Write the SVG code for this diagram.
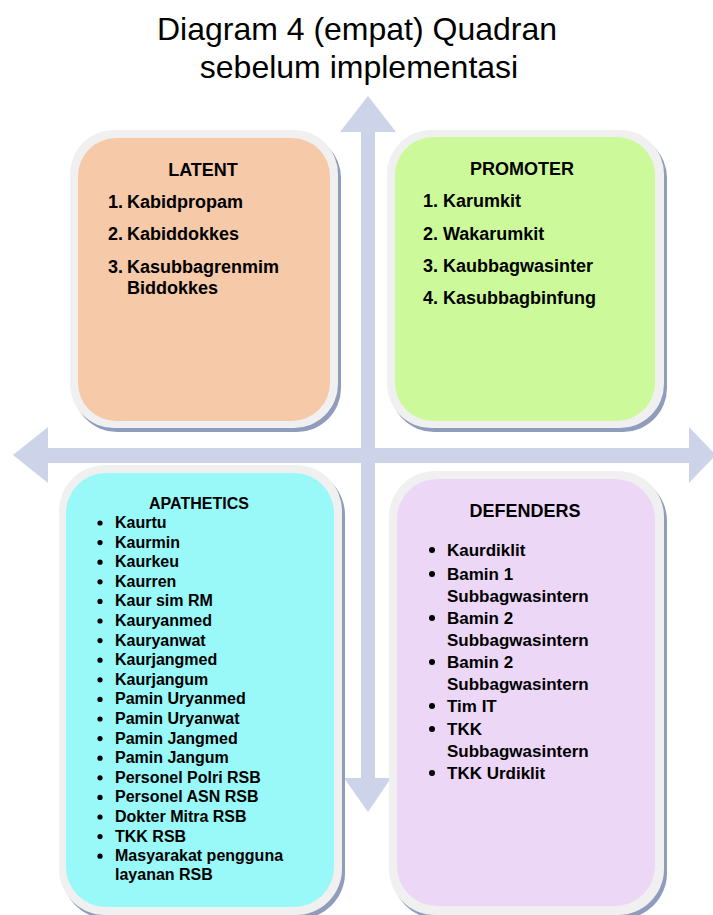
<svg xmlns="http://www.w3.org/2000/svg" width="713" height="915" viewBox="0 0 713 915">
<style>
text{font-family:"Liberation Sans",Arial,sans-serif;fill:#000}
.title{font-size:32px;text-anchor:middle}
.hd{font-size:18px;font-weight:bold;text-anchor:middle}
.it{font-size:18px;font-weight:bold}
.ap{font-size:16px;font-weight:bold}
.df{font-size:17px;font-weight:bold}
.sh{fill:#8f9cbc}
.rim{fill:#f0f0f0}
.arrow{fill:#cdd4ea}
</style>
<rect width="713" height="915" fill="#fff"/>
<text class="title" x="357" y="40">Diagram 4 (empat) Quadran</text>
<text class="title" x="359" y="78">sebelum implementasi</text>
<g id="connectors">
<polygon class="arrow" points="368,96 396,132 375,132 375,778 391,778 368,812 344,778 361,778 361,132 340,132"/>
<polygon class="arrow" points="13,455 48,427 48,448 689,448 689,427 713,452 713,458 689,483 689,463 48,463 48,483"/>
</g>
<g id="latent">
<rect class="sh" x="73" y="134" width="268" height="298" rx="44"/>
<rect class="rim" x="70" y="130" width="268" height="298" rx="44"/>
<rect x="78" y="138" width="252" height="283" rx="38" fill="#f6c9a9"/>
<text class="hd" x="203" y="176">LATENT</text>
<text class="it" x="108" y="208">1.</text><text class="it" x="127" y="208">Kabidpropam</text>
<text class="it" x="108" y="240">2.</text><text class="it" x="127" y="240">Kabiddokkes</text>
<text class="it" x="108" y="273">3.</text><text class="it" x="127" y="273">Kasubbagrenmim</text>
<text class="it" x="127" y="294">Biddokkes</text>
</g>
<g id="promoter">
<rect class="sh" x="390" y="134" width="277" height="298" rx="44"/>
<rect class="rim" x="387" y="130" width="277" height="298" rx="44"/>
<rect x="395" y="137" width="260" height="284" rx="38" fill="#ccfa9a"/>
<text class="hd" x="522" y="175">PROMOTER</text>
<text class="it" x="423" y="207">1.</text><text class="it" x="443" y="207">Karumkit</text>
<text class="it" x="423" y="240">2.</text><text class="it" x="443" y="240">Wakarumkit</text>
<text class="it" x="423" y="272">3.</text><text class="it" x="443" y="272">Kaubbagwasinter</text>
<text class="it" x="423" y="304">4.</text><text class="it" x="443" y="304">Kasubbagbinfung</text>
</g>
<g id="apathetics">
<rect class="sh" x="62" y="469" width="283" height="450" rx="46"/>
<rect class="rim" x="59" y="465" width="283" height="450" rx="46"/>
<rect x="66" y="473" width="268" height="434" rx="40" fill="#99f8f8"/>
<text class="ap" x="199" y="509" text-anchor="middle">APATHETICS</text>
<g fill="#000">
<circle cx="100" cy="523" r="2.6"/><circle cx="100" cy="542.6" r="2.6"/><circle cx="100" cy="562.2" r="2.6"/><circle cx="100" cy="581.8" r="2.6"/><circle cx="100" cy="601.4" r="2.6"/><circle cx="100" cy="621" r="2.6"/><circle cx="100" cy="640.6" r="2.6"/><circle cx="100" cy="660.2" r="2.6"/><circle cx="100" cy="679.8" r="2.6"/><circle cx="100" cy="699.4" r="2.6"/><circle cx="100" cy="719" r="2.6"/><circle cx="100" cy="738.6" r="2.6"/><circle cx="100" cy="758.2" r="2.6"/><circle cx="100" cy="777.8" r="2.6"/><circle cx="100" cy="797.4" r="2.6"/><circle cx="100" cy="817" r="2.6"/><circle cx="100" cy="836.6" r="2.6"/><circle cx="100" cy="856.2" r="2.6"/>
</g>
<text class="ap" x="115" y="528">Kaurtu</text>
<text class="ap" x="115" y="547.6">Kaurmin</text>
<text class="ap" x="115" y="567.2">Kaurkeu</text>
<text class="ap" x="115" y="586.8">Kaurren</text>
<text class="ap" x="115" y="606.4">Kaur sim RM</text>
<text class="ap" x="115" y="626">Kauryanmed</text>
<text class="ap" x="115" y="645.6">Kauryanwat</text>
<text class="ap" x="115" y="665.2">Kaurjangmed</text>
<text class="ap" x="115" y="684.8">Kaurjangum</text>
<text class="ap" x="115" y="704.4">Pamin Uryanmed</text>
<text class="ap" x="115" y="724">Pamin Uryanwat</text>
<text class="ap" x="115" y="743.6">Pamin Jangmed</text>
<text class="ap" x="115" y="763.2">Pamin Jangum</text>
<text class="ap" x="115" y="782.8">Personel Polri RSB</text>
<text class="ap" x="115" y="802.4">Personel ASN RSB</text>
<text class="ap" x="115" y="822">Dokter Mitra RSB</text>
<text class="ap" x="115" y="841.6">TKK RSB</text>
<text class="ap" x="115" y="861.2">Masyarakat pengguna</text>
<text class="ap" x="115" y="880.4">layanan RSB</text>
</g>
<g id="defenders">
<rect class="sh" x="392" y="475" width="275" height="444" rx="46"/>
<rect class="rim" x="389" y="471" width="275" height="444" rx="46"/>
<rect x="397" y="479" width="258" height="427" rx="40" fill="#ecd7f7"/>
<text class="hd" x="525" y="517">DEFENDERS</text>
<g fill="#000">
<circle cx="432" cy="550" r="3"/><circle cx="432" cy="574" r="3"/><circle cx="432" cy="618" r="3"/><circle cx="432" cy="662" r="3"/><circle cx="432" cy="706" r="3"/><circle cx="432" cy="729" r="3"/><circle cx="432" cy="773" r="3"/>
</g>
<text class="df" x="447" y="556">Kaurdiklit</text>
<text class="df" x="447" y="580">Bamin 1</text>
<text class="df" x="447" y="602">Subbagwasintern</text>
<text class="df" x="447" y="624">Bamin 2</text>
<text class="df" x="447" y="646">Subbagwasintern</text>
<text class="df" x="447" y="668">Bamin 2</text>
<text class="df" x="447" y="690">Subbagwasintern</text>
<text class="df" x="447" y="712">Tim IT</text>
<text class="df" x="447" y="735">TKK</text>
<text class="df" x="447" y="757">Subbagwasintern</text>
<text class="df" x="447" y="779">TKK Urdiklit</text>
</g>
</svg>
